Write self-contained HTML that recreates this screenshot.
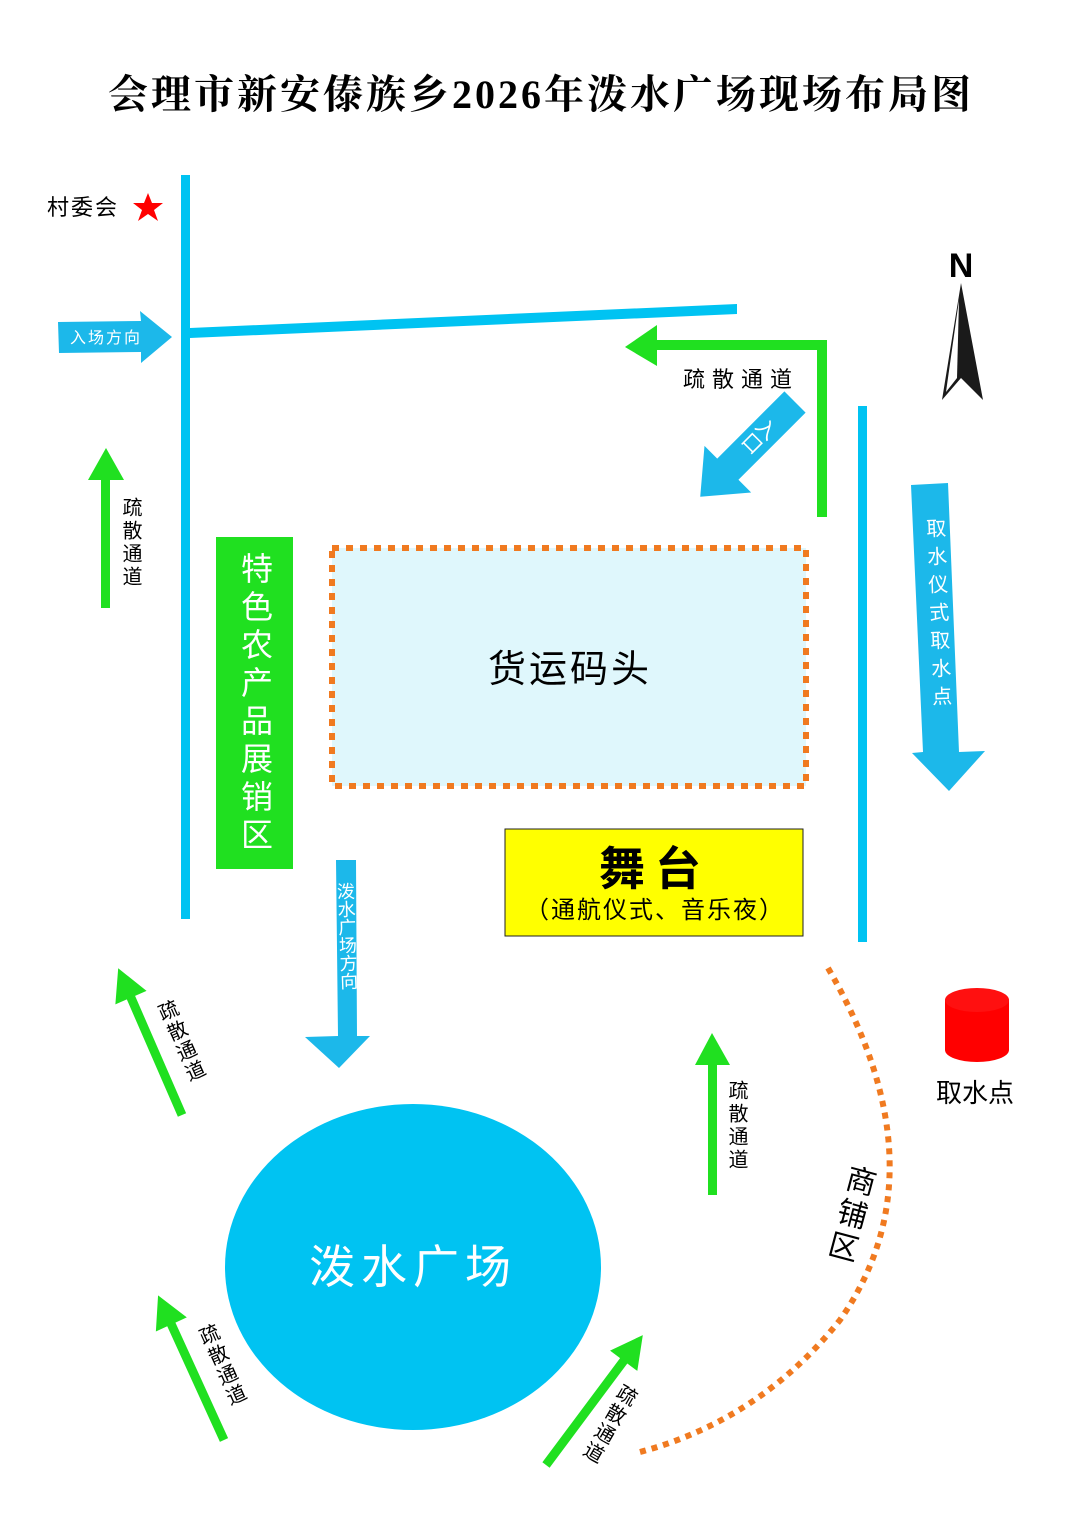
<!DOCTYPE html>
<html><head><meta charset="utf-8"><style>
html,body{margin:0;padding:0;background:#fff;}
svg{display:block;}
text{font-family:"Liberation Sans","Noto Sans CJK SC",sans-serif;}
.v{writing-mode:vertical-rl;}
</style></head><body>
<svg width="1080" height="1527" viewBox="0 0 1080 1527" xmlns="http://www.w3.org/2000/svg">
<rect width="1080" height="1527" fill="#fff"/>
<text x="541" y="108" text-anchor="middle" font-size="40" font-weight="bold" letter-spacing="3" style="font-family:'Liberation Serif','Noto Serif CJK SC',serif">会理市新安傣族乡2026年泼水广场现场布局图</text>

<!-- left road -->
<rect x="181" y="175" width="9" height="744" fill="#00c3f2"/>
<polygon points="190,328 737,304 737,314 190,338" fill="#00c3f2"/>
<!-- entry arrow -->
<polygon points="58,322 141,321 140,311 172,337 141,363 141,352 59,353" fill="#1cb8ea"/>
<text x="106" y="343" text-anchor="middle" font-size="16" fill="#fff" letter-spacing="2">入场方向</text>
<text x="47" y="215" font-size="22" letter-spacing="2">村委会</text>
<polygon points="148,193 152,203 163,203 154,210 158,221 148,214 138,221 142,210 133,203 144,203" fill="#f00"/>

<!-- green arrow left -->
<polygon points="101,608 101,480 88,480 106,448 124,480 110,480 110,608" fill="#20e020"/>
<text x="130" y="497" class="v" font-size="20" letter-spacing="3">疏散通道</text>

<!-- green box -->
<rect x="216" y="537" width="77" height="332" fill="#20e020"/>
<text x="255" y="552" class="v" font-size="32" fill="#fff" letter-spacing="6">特色农产品展销区</text>

<!-- dock -->
<rect x="332" y="548" width="474" height="238" fill="#dff7fc" stroke="#f07a20" stroke-width="6" stroke-dasharray="7 7"/>
<text x="570" y="682" text-anchor="middle" font-size="38" letter-spacing="3">货运码头</text>

<!-- green L -->
<polyline points="822,517 822,345 655,345" fill="none" stroke="#20e020" stroke-width="10"/>
<polygon points="657,325 625,347 657,366" fill="#20e020"/>
<text x="683" y="387" font-size="22" letter-spacing="7">疏散通道</text>

<!-- entrance arrow -->
<g transform="translate(795,402) rotate(135)">
<polygon points="0,-15 95,-15 95,-33 134,0 95,33 95,15 0,15" fill="#1cb8ea"/>
</g>
<text x="0" y="0" font-size="20" fill="#fff" transform="translate(772,420) rotate(45)" class="v">入口</text>

<!-- right road -->
<rect x="858" y="406" width="9" height="536" fill="#00c3f2"/>

<!-- water arrow -->
<polygon points="911,485 948,483 959,752 985,751 949,791 912,753 923,752" fill="#1cb8ea"/>
<text x="937" y="518" class="v" font-size="20" fill="#fff" letter-spacing="8" transform="rotate(-2 937 620)">取水仪式取水点</text>

<!-- compass -->
<text x="961" y="277" text-anchor="middle" font-size="34" font-weight="bold" style="font-family:'Liberation Sans Narrow','Liberation Sans',sans-serif">N</text>
<polygon points="961,283 983,400 961,378 942,400" fill="#1a1a1a"/>
<polygon points="959,300 946,392 957,378" fill="#fff"/>

<!-- stage -->
<rect x="505" y="829" width="298" height="107" fill="#ffff00" stroke="#222" stroke-width="1"/>
<text x="655" y="885" text-anchor="middle" font-size="46" font-weight="bold" letter-spacing="10">舞台</text>
<text x="655" y="918" text-anchor="middle" font-size="24" letter-spacing="2">（通航仪式、音乐夜）</text>

<!-- plaza direction arrow -->
<polygon points="336,860 356,860 357,1036 370,1036 339,1068 305,1037 338,1036" fill="#1cb8ea"/>
<text x="347" y="882" class="v" font-size="18" fill="#fff" transform="rotate(-2 347 950)">泼水广场方向</text>

<!-- plaza -->
<ellipse cx="413" cy="1267" rx="188" ry="163" fill="#00c3f2"/>
<text x="413" y="1283" text-anchor="middle" font-size="46" fill="#fff" letter-spacing="6">泼水广场</text>

<!-- shop arc -->
<path d="M828,968 Q945,1170 840,1320 Q760,1420 640,1452" fill="none" stroke="#f07a20" stroke-width="6" stroke-dasharray="6 6"/>
<text x="0" y="0" class="v" font-size="30" letter-spacing="4" transform="translate(862,1165) rotate(15)">商铺区</text>

<!-- water point -->
<path d="M945,1000 L945,1050 A32,12 0 0 0 1009,1050 L1009,1000 Z" fill="#ff0000"/>
<ellipse cx="977" cy="1000" rx="32" ry="12" fill="#ff1010"/>
<text x="975" y="1102" text-anchor="middle" font-size="26">取水点</text>

<!-- green diagonal arrows -->
<g transform="translate(182,1115) rotate(-113.5)"><polygon points="0,-4.5 128,-4.5 128,-17 160,0 128,17 128,4.5 0,4.5" fill="#20e020"/></g>
<text x="0" y="0" class="v" font-size="20" letter-spacing="2" transform="translate(162,1002) rotate(-24)">疏散通道</text>

<polygon points="708,1195 708,1065 695,1065 712,1033 730,1065 717,1065 717,1195" fill="#20e020"/>
<text x="736" y="1080" class="v" font-size="20" letter-spacing="3">疏散通道</text>

<g transform="translate(224,1440) rotate(-114.5)"><polygon points="0,-4.5 127,-4.5 127,-17 159,0 127,17 127,4.5 0,4.5" fill="#20e020"/></g>
<text x="0" y="0" class="v" font-size="20" letter-spacing="2" transform="translate(203,1326) rotate(-24)">疏散通道</text>

<g transform="translate(546,1465) rotate(-53.3)"><polygon points="0,-4.5 130,-4.5 130,-17 162,0 130,17 130,4.5 0,4.5" fill="#20e020"/></g>
<text x="0" y="0" class="v" font-size="20" letter-spacing="2" transform="translate(630,1385) rotate(30)">疏散通道</text>
</svg>
</body></html>
